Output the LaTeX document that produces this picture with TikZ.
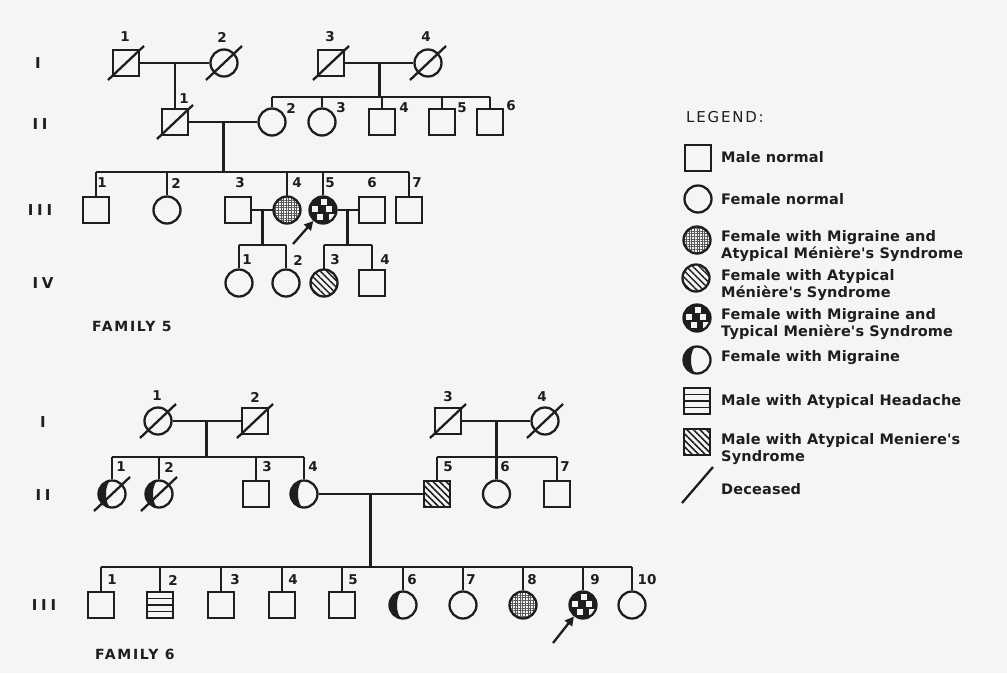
\documentclass[tikz,border=0pt]{standalone}
\usepackage{fontspec}
\setmainfont{DejaVu Sans}
\newfontfamily\legfont{DejaVu Sans}[LetterSpace=1]
\newfontfamily\genfont{DejaVu Sans}[LetterSpace=25]
\newfontfamily\famfont{DejaVu Sans}[LetterSpace=12]
\usetikzlibrary{patterns.meta,arrows.meta,calc}
\definecolor{ink}{HTML}{1E1E1E}
\definecolor{paper}{HTML}{F5F5F3}
\tikzset{
  pline/.style={draw=ink, line width=2.3pt},
  male/.style={rectangle, draw=ink, line width=2.3pt, minimum size=26pt, inner sep=0pt},
  fem/.style={circle, draw=ink, line width=2.3pt, minimum size=27pt, inner sep=0pt},
  stip/.style={pattern={Hatch[distance=2.6pt,line width=0.45pt]}, pattern color=ink!75},
  diag/.style={pattern={Lines[angle=-45,distance=4.6pt,line width=1.5pt]}, pattern color=ink},
  mtm/.style={fill=ink, path picture={
      \foreach \a/\b in {1/-8, -8/-1, 6/-1, -3/7, 9/7} 
        \fill[paper] ($(path picture bounding box.center)+(\a,\b)+(-2.6,-2.6)$) rectangle +(5.2,5.2);}},
  mig/.style={path picture={
      \fill[ink] (path picture bounding box.center) ++(0,14) arc[start angle=90,end angle=270,radius=14]
        arc[start angle=270,end angle=90,x radius=6,y radius=14];}},
  hstr/.style={path picture={
      \foreach \d in {-6.5,0,6.5}
        \draw[ink,line width=1.6pt] ($(path picture bounding box.center)+(-15,\d)$) -- +(30,0);}},
  num/.style={font=\bfseries\fontsize{13.5}{13.5}\selectfont, inner sep=0pt, text=ink},
  gen/.style={font=\genfont\bfseries\fontsize{15}{15}\selectfont, inner sep=0pt, text=ink},
  fam/.style={font=\famfont\bfseries\fontsize{14}{14}\selectfont, inner sep=0pt, text=ink},
  leg/.style={font=\legfont\bfseries\fontsize{14.5}{17.5}\selectfont, inner sep=0pt, text=ink, anchor=west, align=left},
  arr/.style={draw=ink, line width=2.3pt, -{Triangle[length=9pt,width=9pt]}},
}
\newcommand\dead[1]{\draw[pline] ([shift={(-18,17)}]#1.center) -- ([shift={(18,-17)}]#1.center);}
\begin{document}
\begin{tikzpicture}[x=1pt,y=-1pt]
\fill[paper] (0,0) rectangle (1007,673);
\useasboundingbox (0,0) rectangle (1007,673);

% ---------------- FAMILY 5 ----------------
\node[gen] (g5a) at (38,63) {I};
\node[gen] (g5b) at (40,124) {II};
\node[gen] (g5c) at (40,210) {III};
\node[gen] (g5d) at (43,283) {IV};

\node[male] (aI1) at (126,63) {};
\node[fem]  (aI2) at (224,63) {};
\node[male] (aI3) at (331,63) {};
\node[fem]  (aI4) at (428,63) {};
\dead{aI1}\dead{aI2}\dead{aI3}\dead{aI4}
\node[num] (aI1l) at (125,37) {1};
\node[num] (aI2l) at (222,37) {2};
\node[num] (aI3l) at (330,37) {3};
\node[num] (aI4l) at (426,37) {4};

\node[male] (aII1) at (175,122) {};
\node[fem]  (aII2) at (272,122) {};
\node[fem]  (aII3) at (322,122) {};
\node[male] (aII4) at (382,122) {};
\node[male] (aII5) at (442,122) {};
\node[male] (aII6) at (490,122) {};
\dead{aII1}
\node[num] (aII1l) at (184,99) {1};
\node[num] (aII2l) at (291,108) {2};
\node[num] (aII3l) at (341,108) {3};
\node[num] (aII4l) at (404,108) {4};
\node[num] (aII5l) at (462,108) {5};
\node[num] (aII6l) at (511,106) {6};

\node[male] (aIII1) at (96,210) {};
\node[fem]  (aIII2) at (167,210) {};
\node[male] (aIII3) at (238,210) {};
\node[fem,stip] (aIII4) at (287,210) {};
\node[fem,mtm]  (aIII5) at (323,210) {};
\node[male] (aIII6) at (372,210) {};
\node[male] (aIII7) at (409,210) {};
\node[num] (aIII1l) at (102,183) {1};
\node[num] (aIII2l) at (176,183) {2};
\node[num] (aIII3l) at (240,183) {3};
\node[num] (aIII4l) at (297,183) {4};
\node[num] (aIII5l) at (330,183) {5};
\node[num] (aIII6l) at (372,183) {6};
\node[num] (aIII7l) at (417,183) {7};

\node[fem]  (aIV1) at (239,283) {};
\node[fem]  (aIV2) at (286,283) {};
\node[fem,diag] (aIV3) at (324,283) {};
\node[male] (aIV4) at (372,283) {};
\node[num] (aIV1l) at (247,260) {1};
\node[num] (aIV2l) at (298,260) {2};
\node[num] (aIV3l) at (335,260) {3};
\node[num] (aIV4l) at (385,260) {4};

\coordinate (s2) at (0,97);
\coordinate (s3) at (0,172);
\coordinate (s4) at (0,245);

\draw[pline] (aI1) -- (aI2);
\coordinate (m1) at ($(aI1)!0.5!(aI2)$);
\draw[pline] (m1) -- (aII1);

\draw[pline] (aI3) -- (aI4);
\coordinate (m2) at ($(aI3)!0.5!(aI4)$);
\draw[pline] (m2) -- (m2 |- s2);
\draw[pline] (aII2 |- s2) -- (aII6 |- s2);
\foreach \c in {aII2,aII3,aII4,aII5,aII6} \draw[pline] (\c |- s2) -- (\c);

\draw[pline] (aII1) -- (aII2);
\coordinate (m3) at ($(aII1)!0.5!(aII2)$);
\draw[pline] (m3) -- (m3 |- s3);
\draw[pline] (aIII1 |- s3) -- (aIII7 |- s3);
\foreach \c in {aIII1,aIII2,aIII4,aIII5,aIII7} \draw[pline] (\c |- s3) -- (\c);

\draw[pline] (aIII3) -- (aIII4);
\coordinate (m4) at ($(aIII3)!0.5!(aIII4)$);
\draw[pline] (m4) -- (m4 |- s4);
\draw[pline] (aIV1 |- s4) -- (aIV2 |- s4);
\foreach \c in {aIV1,aIV2} \draw[pline] (\c |- s4) -- (\c);

\draw[pline] (aIII5) -- (aIII6);
\coordinate (m5) at ($(aIII5)!0.5!(aIII6)$);
\draw[pline] (m5) -- (m5 |- s4);
\draw[pline] (aIV3 |- s4) -- (aIV4 |- s4);
\foreach \c in {aIV3,aIV4} \draw[pline] (\c |- s4) -- (\c);

\coordinate (p5) at (293,244);
\draw[arr] (p5) -- (aIII5);

\node[fam] (fam5) at (132,326) {FAMILY 5};

% ---------------- FAMILY 6 ----------------
\node[gen] (g6a) at (43,422) {I};
\node[gen] (g6b) at (43,495) {II};
\node[gen] (g6c) at (44,605) {III};

\node[fem]  (bI1) at (158,421) {};
\node[male] (bI2) at (255,421) {};
\node[male] (bI3) at (448,421) {};
\node[fem]  (bI4) at (545,421) {};
\dead{bI1}\dead{bI2}\dead{bI3}\dead{bI4}
\node[num] (bI1l) at (157,396) {1};
\node[num] (bI2l) at (255,397) {2};
\node[num] (bI3l) at (448,397) {3};
\node[num] (bI4l) at (542,397) {4};

\node[fem,mig]  (bII1) at (112,494) {};
\node[fem,mig]  (bII2) at (159,494) {};
\node[male]     (bII3) at (256,494) {};
\node[fem,mig]  (bII4) at (304,494) {};
\node[male,diag] (bII5) at (437,494) {};
\node[fem]      (bII6) at (496.5,494) {};
\node[male]     (bII7) at (557,494) {};
\dead{bII1}\dead{bII2}
\node[num] (bII1l) at (121,467) {1};
\node[num] (bII2l) at (169,467) {2};
\node[num] (bII3l) at (267,467) {3};
\node[num] (bII4l) at (313,467) {4};
\node[num] (bII5l) at (448,467) {5};
\node[num] (bII6l) at (505,467) {6};
\node[num] (bII7l) at (565,467) {7};

\node[male]      (bIII1) at (101,605) {};
\node[male,hstr] (bIII2) at (160,605) {};
\node[male]      (bIII3) at (221,605) {};
\node[male]      (bIII4) at (282,605) {};
\node[male]      (bIII5) at (342,605) {};
\node[fem,mig]   (bIII6) at (403,605) {};
\node[fem]       (bIII7) at (463,605) {};
\node[fem,stip]  (bIII8) at (523,605) {};
\node[fem,mtm]   (bIII9) at (583,605) {};
\node[fem]       (bIII10) at (632,605) {};
\node[num] (bIII1l) at (112,580) {1};
\node[num] (bIII2l) at (173,580) {2};
\node[num] (bIII3l) at (235,580) {3};
\node[num] (bIII4l) at (293,580) {4};
\node[num] (bIII5l) at (353,580) {5};
\node[num] (bIII6l) at (412,580) {6};
\node[num] (bIII7l) at (471,580) {7};
\node[num] (bIII8l) at (532,580) {8};
\node[num] (bIII9l) at (595,580) {9};
\node[num] (bIII10l) at (647,580) {10};

\coordinate (s6) at (0,457);
\coordinate (s8) at (0,567);

\draw[pline] (bI1) -- (bI2);
\coordinate (m6) at ($(bI1)!0.5!(bI2)$);
\draw[pline] (m6) -- (m6 |- s6);
\draw[pline] (bII1 |- s6) -- (bII4 |- s6);
\foreach \c in {bII1,bII2,bII3,bII4} \draw[pline] (\c |- s6) -- (\c);

\draw[pline] (bI3) -- (bI4);
\coordinate (m7) at ($(bI3)!0.5!(bI4)$);
\draw[pline] (m7) -- (m7 |- s6);
\draw[pline] (bII5 |- s6) -- (bII7 |- s6);
\foreach \c in {bII5,bII6,bII7} \draw[pline] (\c |- s6) -- (\c);

\draw[pline] (bII4) -- (bII5);
\coordinate (m8) at ($(bII4)!0.5!(bII5)$);
\draw[pline] (m8) -- (m8 |- s8);
\draw[pline] (bIII1 |- s8) -- (bIII10 |- s8);
\foreach \c in {bIII1,bIII2,bIII3,bIII4,bIII5,bIII6,bIII7,bIII8,bIII9,bIII10} \draw[pline] (\c |- s8) -- (\c);

\coordinate (p9) at (553,643);
\draw[arr] (p9) -- (bIII9);

\node[fam] (fam6) at (135,654) {FAMILY 6};

% ---------------- LEGEND ----------------
\node[font=\famfont\fontsize{15}{15}\selectfont, inner sep=0pt, text=ink, anchor=west] (legt) at (686,117) {LEGEND:};

\node[male]      (k1) at (698,158) {};
\node[fem]       (k2) at (698,199) {};
\node[fem,stip]  (k3) at (697,240) {};
\node[fem,diag]  (k4) at (696,278) {};
\node[fem,mtm]   (k5) at (697,318) {};
\node[fem,mig]   (k6) at (697,360) {};
\node[male,hstr] (k7) at (697,401) {};
\node[male,diag] (k8) at (697,442) {};
\coordinate (k9a) at (682,503);
\coordinate (k9b) at (713,467);
\draw[pline] (k9a) -- (k9b);

\node[leg] (t1) at (721,157) {Male normal};
\node[leg] (t2) at (721,199) {Female normal};
\node[leg] (t3) at (721,246) {Female with Migraine and\\Atypical Ménière's Syndrome};
\node[leg] (t4) at (721,285) {Female with Atypical\\Ménière's Syndrome};
\node[leg] (t5) at (721,324) {Female with Migraine and\\Typical Menière's Syndrome};
\node[leg] (t6) at (721,358) {Female with Migraine};
\node[leg] (t7) at (721,402) {Male with Atypical Headache};
\node[leg] (t8) at (721,449) {Male with Atypical Meniere's\\Syndrome};
\node[leg] (t9) at (721,489) {Deceased};
\end{tikzpicture}
\end{document}
